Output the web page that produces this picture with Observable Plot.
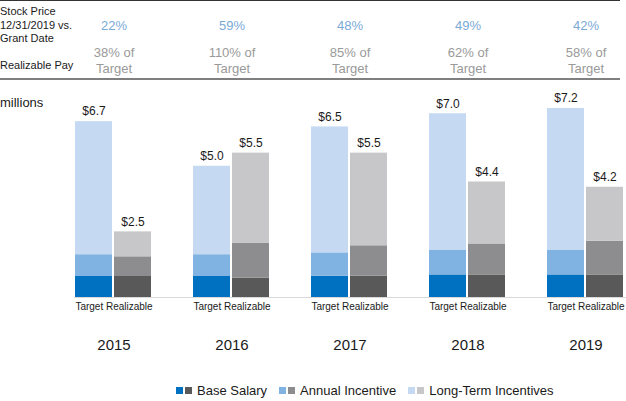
<!DOCTYPE html>
<html>
<head>
<meta charset="utf-8">
<script src="https://cdn.jsdelivr.net/npm/d3@7"></script>
<script src="https://cdn.jsdelivr.net/npm/@observablehq/plot@0.6"></script>
<style>
  body { margin: 0; background: white; font-family: "Liberation Sans", Arial, sans-serif; }
  #wrap { width: 626px; height: 401px; overflow: hidden; position: relative; }
  .legend { display: flex; align-items: center; height: 21px; margin-left: 176px; font-size: 13px; color: #1a1a1a; }
  .item { display: flex; align-items: center; margin-right: 12px; }
  .sw { width: 7px; height: 7px; margin-right: 2px; }
  .item span { margin-left: 3px; }
</style>
</head>
<body>
<div id="wrap"></div>
<script>
// ---- data ----
const years = ["2015", "2016", "2017", "2018", "2019"];
const kinds = ["Target", "Realizable"];
const components = ["Base Salary", "Annual Incentive", "Long-Term Incentives"];

const targetBase   = [0.80, 0.80, 0.81, 0.86, 0.86];
const targetAnnual = [0.83, 0.83, 0.89, 0.95, 0.95];
const targetLTI    = [5.07, 3.37, 4.80, 5.19, 5.39];

const realBase   = [0.80, 0.74, 0.81, 0.86, 0.86];
const realAnnual = [0.75, 1.32, 1.16, 1.18, 1.28];
const realLTI    = [0.95, 3.44, 3.53, 2.36, 2.06];

const stockVsGrant = ["22%", "59%", "48%", "49%", "42%"];
const realizablePct = ["38%", "110%", "85%", "62%", "58%"];

const blueColors = ["#0070c0", "#80b3e1", "#c5daf2"];
const grayColors = ["#595959", "#8d8d8f", "#c7c7c9"];

// ---- build table ----
const rows = [];
years.forEach((yr, i) => {
  const t = [targetBase[i], targetAnnual[i], targetLTI[i]];
  const r = [realBase[i], realAnnual[i], realLTI[i]];
  components.forEach((c, j) => {
    rows.push({year: yr, kind: "Target", comp: c, key: "Target|" + c, value: t[j]});
  });
  components.forEach((c, j) => {
    rows.push({year: yr, kind: "Realizable", comp: c, key: "Realizable|" + c, value: r[j]});
  });
});
const totals = d3.rollups(rows, v => d3.sum(v, d => d.value), d => d.year, d => d.kind)
  .flatMap(([year, ks]) => ks.map(([kind, total]) => ({year, kind, total})));
const header = years.map((yr, i) => ({
  year: yr, pct: stockVsGrant[i], real1: realizablePct[i] + " of", real2: "Target", pair: kinds.join(" ")
}));

const colorDomain = [...components.map(c => "Target|" + c), ...components.map(c => "Realizable|" + c)];
const colorRange = [...blueColors, ...grayColors];

const W = 626, H = 380;
const chart = Plot.plot({
  width: W,
  height: H,
  marginLeft: 74,
  marginRight: 1,
  marginTop: 87,
  marginBottom: 83,
  style: {fontFamily: "Liberation Sans, Arial, sans-serif", fontSize: "10px", color: "#1a1a1a", background: "white"},
  fx: {domain: years, paddingInner: 0.35, paddingOuter: 0, label: null},
  x: {domain: kinds, paddingInner: 0.05, paddingOuter: 0, label: null, axis: null},
  y: {domain: [0, 8], axis: null},
  color: {domain: colorDomain, range: colorRange, legend: false},
  marks: [
    Plot.barY(rows, {fx: "year", x: "kind", y: "value", fill: "key"}),
    Plot.text(totals, {fx: "year", x: "kind", y: "total", text: d => "$" + d.total.toFixed(1), dy: -10, fontSize: 12, fill: "#1a1a1a"}),
    Plot.text(header, {fx: "year", text: "pct", frameAnchor: "top", dy: -67, fontSize: 13, fill: "#7aaad6"}),
    Plot.text(header, {fx: "year", text: "real1", frameAnchor: "top", dy: -39.5, fontSize: 13, fill: "#9a9a9a"}),
    Plot.text(header, {fx: "year", text: "real2", frameAnchor: "top", dy: -24, fontSize: 13, fill: "#9a9a9a"}),
    Plot.text(header, {fx: "year", text: "pair", frameAnchor: "bottom", dy: 12, fontSize: 10, fill: "#1a1a1a"}),
    Plot.axisFx({anchor: "bottom", tickSize: 0, tickPadding: 42, label: null, fontSize: 15})
  ]
});

// decorations
const svg = d3.select(chart);
const y0 = chart.scale("y").apply(0);
const fxRange = chart.scale("fx").range;
svg.append("line").attr("x1", fxRange[0]).attr("x2", W).attr("y1", y0 + 0.5).attr("y2", y0 + 0.5)
  .attr("stroke", "#d9d9d9").attr("stroke-width", 1);
svg.append("line").attr("x1", 0).attr("x2", 620).attr("y1", 0.5).attr("y2", 0.5)
  .attr("stroke", "#333").attr("stroke-width", 1);
svg.append("line").attr("x1", 0).attr("x2", 620).attr("y1", 79).attr("y2", 79)
  .attr("stroke", "#7f7f7f").attr("stroke-width", 2);

const leftLabels = [
  {t: "Stock Price", y: 11, s: 11},
  {t: "12/31/2019 vs.", y: 25, s: 11},
  {t: "Grant Date", y: 38.5, s: 11},
  {t: "Realizable Pay", y: 65, s: 11},
  {t: "millions", y: 102, s: 13}
];
leftLabels.forEach(l => {
  svg.append("text").attr("x", 0).attr("y", l.y).attr("dy", "0.35em")
    .attr("text-anchor", "start")
    .attr("font-size", l.s).attr("fill", "#1a1a1a").text(l.t);
});

const wrap = document.getElementById("wrap");
wrap.appendChild(chart);

// legend
const legend = document.createElement("div");
legend.className = "legend";
components.forEach((c, j) => {
  const item = document.createElement("div");
  item.className = "item";
  [blueColors[j], grayColors[j]].forEach(col => {
    const sw = document.createElement("div");
    sw.className = "sw";
    sw.style.background = col;
    item.appendChild(sw);
  });
  const s = document.createElement("span");
  s.textContent = c;
  item.appendChild(s);
  legend.appendChild(item);
});
wrap.appendChild(legend);
</script>
</body>
</html>
